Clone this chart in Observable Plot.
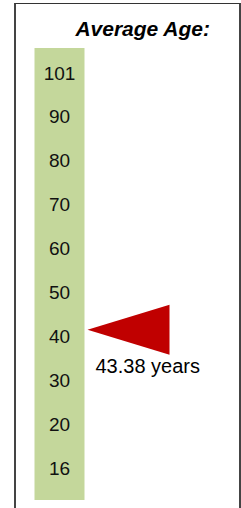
<!DOCTYPE html>
<html>
<head>
<meta charset="utf-8">
<script src="https://cdn.jsdelivr.net/npm/d3@7"></script>
<script src="https://cdn.jsdelivr.net/npm/@observablehq/plot@0.6"></script>
<style>
  html, body { margin: 0; padding: 0; background: #fff; }
  #wrap { position: relative; width: 241px; height: 508px; overflow: hidden; font-family: "Liberation Sans", Arial, sans-serif; }
  #box { position: absolute; left: 14px; top: 3px; width: 223px; height: 520px; border-left: 2px solid #444; border-top: 1.5px solid #333; border-right: 2px solid #444; }
  #title { position: absolute; left: 0; width: 210px; top: 18px; line-height: 21px; text-align: right; font-size: 21px; font-weight: bold; font-style: italic; color: #000; }
  #chart { position: absolute; left: 0; top: 48px; }
</style>
</head>
<body>
<div id="wrap">
  <div id="box"></div>
  <div id="title">Average Age:</div>
  <div id="chart"></div>
</div>
<script>
// Gauge tick labels (top to bottom), equally spaced on the gauge
const tickAges = [101, 90, 80, 70, 60, 50, 40, 30, 20, 16];
// Average age shown in the label
const averageAge = 43.38;
// Where the marker sits on the gauge
const markerAt = 41.6;
const averageLabel = `${averageAge.toFixed(2)} years`;

const W = 241, H = 460;
const yRange = tickAges.map((d, i) => 25 + i * (395 / (tickAges.length - 1)));

const leftTriangle = {
  draw(context) {
    context.moveTo(-41, 0);
    context.lineTo(41, -25);
    context.lineTo(41, 25);
    context.closePath();
  }
};

const plot = Plot.plot({
  width: W,
  height: H,
  marginTop: 0,
  marginBottom: 8,
  marginLeft: 0,
  marginRight: 0,
  style: { fontFamily: '"Liberation Sans", Arial, sans-serif', background: "transparent", overflow: "visible" },
  x: { type: "point", domain: ["gauge", "marker"], range: [59, 128], padding: 0, align: 0.5, axis: null },
  y: { type: "linear", domain: tickAges, range: yRange, axis: null },
  marks: [
    Plot.ruleX(["gauge"], { stroke: "#c4d79b", strokeWidth: 50 }),
    Plot.text(tickAges, { x: () => "gauge", y: d => d, text: d => String(d), fontSize: 19, fill: "#111" }),
    Plot.dot([markerAt], { x: () => "marker", y: d => d, symbol: leftTriangle, fill: "#c00000", stroke: "none", r: 10 }),
    Plot.text([markerAt], { x: () => "marker", y: d => d, text: () => averageLabel, textAnchor: "start", dx: -33, dy: 37, fontSize: 20, fill: "#000" })
  ]
});
document.getElementById("chart").appendChild(plot);
</script>
</body>
</html>
